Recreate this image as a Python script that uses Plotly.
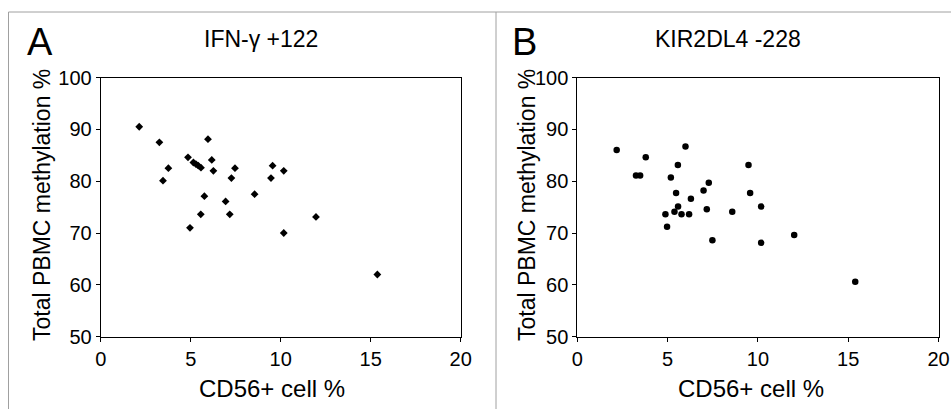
import plotly.graph_objects as go

# Panel A: IFN-γ +122
a_x = [2.14, 3.26, 3.46, 3.76, 4.85, 5.15, 5.29, 5.42, 5.57, 5.96, 6.17, 6.26, 5.76,
       5.56, 4.96, 6.94, 7.17, 7.26, 7.46, 8.55, 9.46, 9.55, 10.17, 10.17, 11.96, 15.37]
a_y = [90.5, 87.5, 80.1, 82.5, 84.6, 83.6, 83.3, 83.0, 82.6, 88.1, 84.1, 82.0, 77.1,
       73.6, 71.0, 76.1, 73.6, 80.6, 82.5, 77.5, 80.6, 83.0, 82.0, 70.0, 73.1, 62.0]

# Panel B: KIR2DL4 -228
b_x = [2.18, 3.25, 3.48, 3.79, 4.88, 4.97, 5.18, 5.38, 5.47, 5.57, 5.58, 5.77, 5.99,
       6.19, 6.29, 6.99, 7.17, 7.28, 7.48, 8.58, 9.48, 9.57, 10.18, 10.18, 12.01, 15.39]
b_y = [86.0, 81.1, 81.1, 84.6, 73.6, 71.2, 80.7, 74.1, 77.7, 83.1, 75.1, 73.6, 86.7,
       73.6, 76.6, 78.2, 74.6, 79.7, 68.6, 74.1, 83.1, 77.7, 75.1, 68.1, 69.6, 60.6]

x_ticks = [0, 5, 10, 15, 20]
y_ticks = [50, 60, 70, 80, 90, 100]

W, H = 951, 409
FONT = "Liberation Sans, Arial, sans-serif"

fig = go.Figure()
fig.add_trace(go.Scatter(x=a_x, y=a_y, mode="markers", xaxis="x", yaxis="y",
                         marker=dict(symbol="diamond", size=6, color="black"),
                         showlegend=False))
fig.add_trace(go.Scatter(x=b_x, y=b_y, mode="markers", xaxis="x2", yaxis="y2",
                         marker=dict(symbol="circle", size=6.5, color="black"),
                         showlegend=False))

def px(v):
    return v / W

def py(v):
    return 1 - v / H

ax_common = dict(showgrid=False, zeroline=False, showline=True, linecolor="black",
                 linewidth=1, mirror=True, ticks="outside", ticklen=4, tickcolor="black",
                 automargin=False,
                 tickfont=dict(family=FONT, size=20, color="black"))

fig.update_layout(
    width=W, height=H,
    margin=dict(l=0, r=0, t=0, b=0, pad=0, autoexpand=False),
    paper_bgcolor="white", plot_bgcolor="white",
    font=dict(family=FONT, color="black"),
    xaxis=dict(domain=[px(100.7), px(460.7)], range=[0, 20], tickvals=x_ticks,
               anchor="y", **ax_common),
    yaxis=dict(domain=[py(336.7), py(77.5)], range=[50, 100], tickvals=y_ticks,
               anchor="x", **ax_common),
    xaxis2=dict(domain=[px(577.3), px(938.5)], range=[0, 20], tickvals=x_ticks,
                anchor="y2", **ax_common),
    yaxis2=dict(domain=[py(336.7), py(77.5)], range=[50, 100], tickvals=y_ticks,
                anchor="x2", **ax_common),
)

grey = "#a0a0a0"
shapes = [
    dict(type="line", xref="paper", yref="paper", x0=px(8.5), x1=px(8.5), y0=py(12), y1=0,
         line=dict(color=grey, width=1)),
    dict(type="line", xref="paper", yref="paper", x0=px(8.5), x1=1, y0=py(12), y1=py(12),
         line=dict(color=grey, width=1)),
    dict(type="line", xref="paper", yref="paper", x0=px(496), x1=px(496), y0=py(12), y1=0,
         line=dict(color=grey, width=1)),
]
fig.update_layout(shapes=shapes)

def ann(text, x, y, size, angle=0):
    return dict(text=text, x=px(x), y=py(y), xref="paper", yref="paper",
                showarrow=False, textangle=angle, xanchor="center", yanchor="middle",
                font=dict(family=FONT, size=size, color="black"))

fig.update_layout(annotations=[
    ann("A", 39.5, 42, 38),
    ann("IFN-γ +122", 261, 38.5, 23),
    ann("B", 524, 42, 38),
    ann("KIR2DL4 -228", 728, 38.5, 23),
    ann("Total PBMC methylation %", 42, 205, 23, -90),
    ann("Total PBMC methylation %", 527, 205, 23, -90),
    ann("CD56+ cell %", 271.5, 388, 24),
    ann("CD56+ cell %", 751, 388, 24),
])

fig.write_html("out.html", config={"displayModeBar": False},
               post_script="document.body.style.margin='0';document.body.style.overflow='hidden';")
